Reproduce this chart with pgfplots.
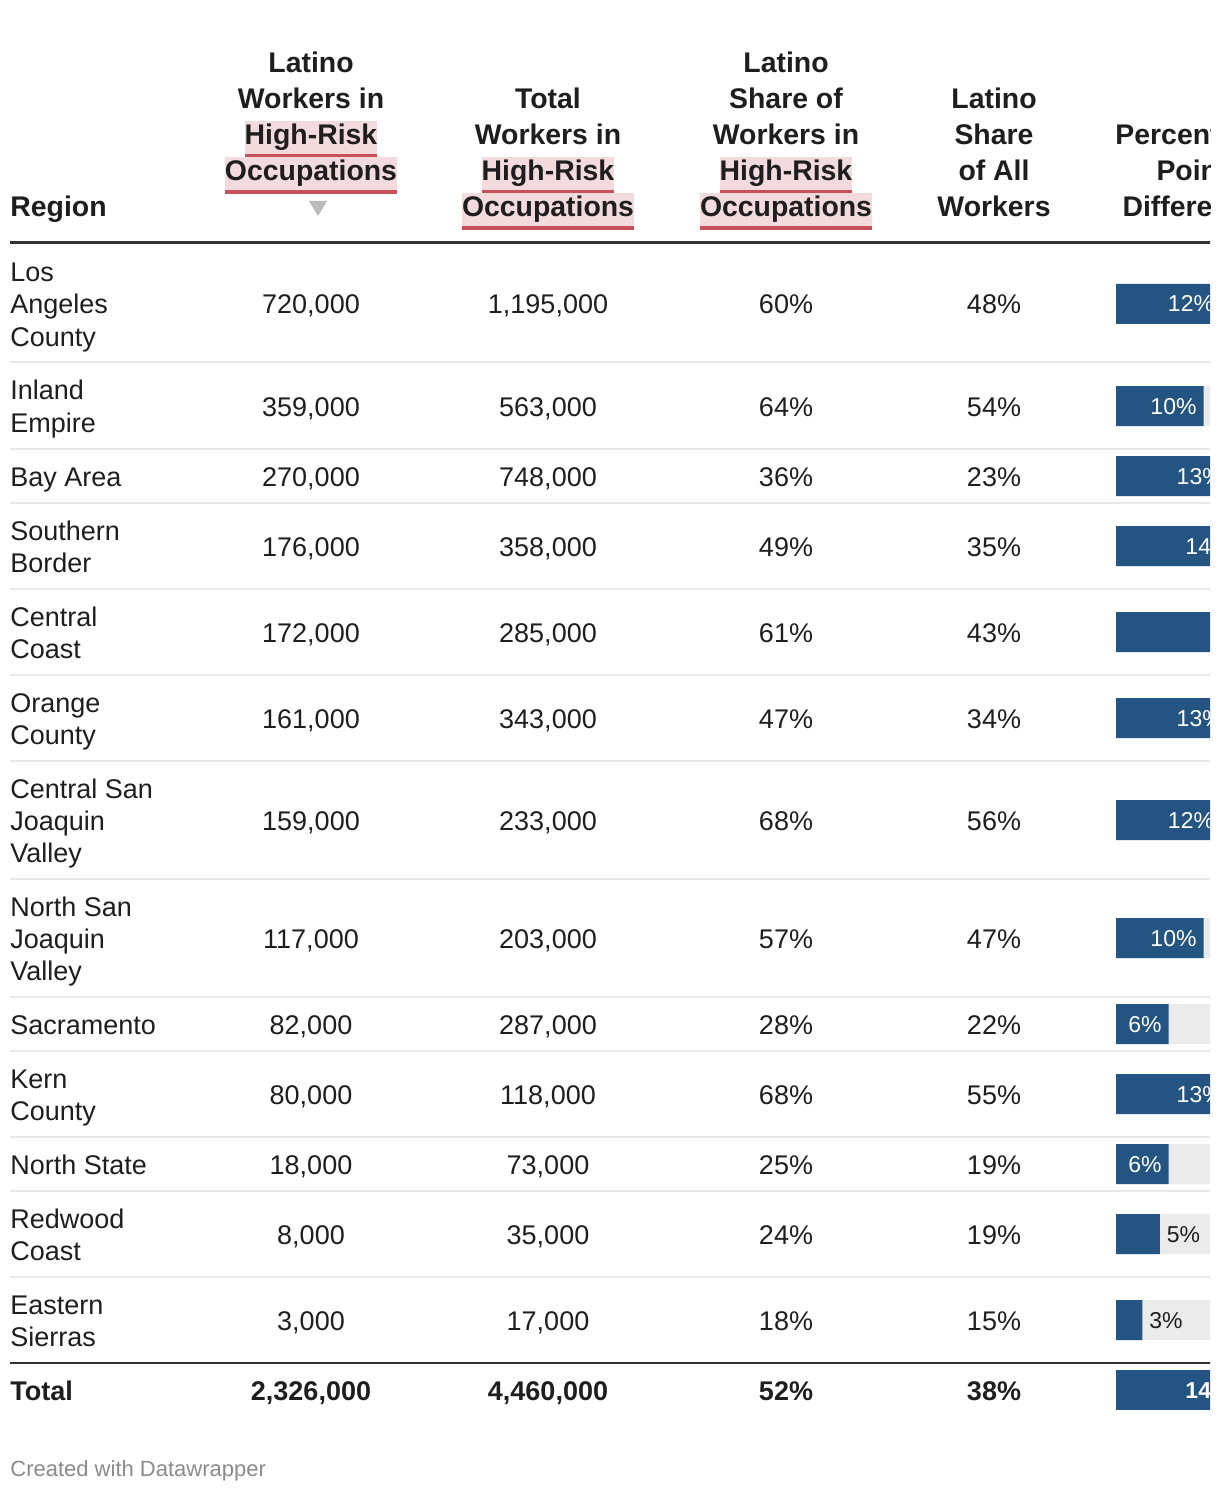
\documentclass[border=0pt]{standalone}
\usepackage{pgfplots}
\usepackage{pgfplotstable}
\pgfplotsset{compat=1.18}
\usepackage{fontspec}
\setmainfont{Liberation Sans}
\definecolor{barblue}{HTML}{235482}
\definecolor{track}{HTML}{EBEBEB}
\definecolor{txt}{HTML}{1E1E1E}
\definecolor{hlpink}{HTML}{F3DADD}
\definecolor{hlred}{HTML}{C8505A}
\definecolor{sepc}{HTML}{E8E8E8}
\definecolor{rulec}{HTML}{333333}
\definecolor{foot}{HTML}{8A8A8A}
\definecolor{arrowc}{HTML}{BBBBBB}
\newsavebox\hlbox
\newcommand\hl[1]{\sbox\hlbox{#1}\rlap{\color{hlpink}\rule[-0.32em]{\wd\hlbox}{1.15em}}\rlap{\color{hlred}\rule[-0.46em]{\wd\hlbox}{0.14em}}\usebox\hlbox}
\newcommand\hfont{\fontsize{14.2pt}{18pt}\selectfont\bfseries}
\newcommand\bfont{\fontsize{13.5pt}{16pt}\selectfont}
\newcommand\lfont{\fontsize{11.5pt}{13pt}\selectfont}
\newcommand\hd[3]{\node[anchor=base, font=\hfont, text=txt, inner sep=0pt] at (axis cs:#1,#2) {#3};}
\newcommand\rl[2]{\node[anchor=base west, font=\bfont, text=txt, inner sep=0pt] at (axis cs:10,#1) {#2};}

\pgfplotstableread{
y lat tot share all diff track
304 720000 1195000 60 48 12 18
406 359000 563000 64 54 10 18
476 270000 748000 36 23 13 18
546 176000 358000 49 35 14 18
632 172000 285000 61 43 18 18
718 161000 343000 47 34 13 18
820 159000 233000 68 56 12 18
938 117000 203000 57 47 10 18
1024 82000 287000 28 22 6 18
1094 80000 118000 68 55 13 18
1164 18000 73000 25 19 6 18
1234 8000 35000 24 19 5 18
1320 3000 17000 18 15 3 18
}\rows
\pgfplotstableread{
y lat tot share all diff track
1390 2326000 4460000 52 38 14 18
}\totalrow

\pgfplotsset{
  cellstyle/.style={only marks, mark=none, nodes near coords,
    every node near coord/.style={anchor=base, yshift=-5pt, font=\bfont, text=txt, inner sep=0pt}},
  totstyle/.style={only marks, mark=none, nodes near coords,
    every node near coord/.style={anchor=base, yshift=-5pt, font=\bfont\bfseries, text=txt, inner sep=0pt}},
  pct/.style={nodes near coords={\pgfmathprintnumber{\pgfplotspointmeta}\%}},
}

\begin{document}
\begin{tikzpicture}
\useasboundingbox (0,0) rectangle (610pt,746pt);
\begin{scope}
\clip (0,0) rectangle (605pt,746pt);
\begin{axis}[at={(0,0)}, anchor=south west, scale only axis,
  width=610pt, height=746pt, xmin=0, xmax=1220, ymin=0, ymax=1492,
  y dir=reverse, hide axis, clip=false,
  /pgf/number format/fixed, /pgf/number format/precision=0,
  /pgf/number format/1000 sep={,}, /pgf/number format/assume math mode=true]
% rules
\draw[rulec, line width=1.5pt] (axis cs:10,243) -- (axis cs:1220,243);
\pgfplotsinvokeforeach{362,449,503,589,675,761,879,997,1051,1137,1191,1277}{
  \draw[sepc, line width=1pt] (axis cs:10,#1) -- (axis cs:1220,#1);}
\draw[rulec, line width=1pt] (axis cs:10,1363) -- (axis cs:1220,1363);
% headers
\node[anchor=base west, font=\hfont, text=txt, inner sep=0pt] at (axis cs:10,217) {Region};
\hd{311}{73}{Latino}
\hd{311}{109}{Workers in}
\hd{311}{145}{\hl{High-Risk}}
\hd{311}{181}{\hl{Occupations}}
\fill[arrowc] (axis cs:309,201) -- (axis cs:327,201) -- (axis cs:318,216) -- cycle;
\hd{548}{109}{Total}
\hd{548}{145}{Workers in}
\hd{548}{181}{\hl{High-Risk}}
\hd{548}{217}{\hl{Occupations}}
\hd{786}{73}{Latino}
\hd{786}{109}{Share of}
\hd{786}{145}{Workers in}
\hd{786}{181}{\hl{High-Risk}}
\hd{786}{217}{\hl{Occupations}}
\hd{994}{109}{Latino}
\hd{994}{145}{Share}
\hd{994}{181}{of All}
\hd{994}{217}{Workers}
\hd{1192}{145}{Percentage}
\hd{1192}{181}{Point}
\hd{1192}{217}{Difference}
% region names, one line at a time
\rl{282}{Los}\rl{314}{Angeles}\rl{346}{County}
\rl{400}{Inland}\rl{432}{Empire}
\rl{486}{Bay Area}
\rl{540}{Southern}\rl{572}{Border}
\rl{626}{Central}\rl{658}{Coast}
\rl{712}{Orange}\rl{744}{County}
\rl{798}{Central San}\rl{830}{Joaquin}\rl{862}{Valley}
\rl{916}{North San}\rl{948}{Joaquin}\rl{980}{Valley}
\rl{1034}{Sacramento}
\rl{1088}{Kern}\rl{1120}{County}
\rl{1174}{North State}
\rl{1228}{Redwood}\rl{1260}{Coast}
\rl{1314}{Eastern}\rl{1346}{Sierras}
\node[anchor=base west, font=\bfont\bfseries, text=txt, inner sep=0pt] at (axis cs:10,1400) {Total};
% cells
\addplot[cellstyle, point meta=\thisrow{lat}] table[x expr=311, y=y] {\rows};
\addplot[cellstyle, point meta=\thisrow{tot}] table[x expr=548, y=y] {\rows};
\addplot[cellstyle, pct, point meta=\thisrow{share}] table[x expr=786, y=y] {\rows};
\addplot[cellstyle, pct, point meta=\thisrow{all}] table[x expr=994, y=y] {\rows};
\addplot[totstyle, point meta=\thisrow{lat}] table[x expr=311, y=y] {\totalrow};
\addplot[totstyle, point meta=\thisrow{tot}] table[x expr=548, y=y] {\totalrow};
\addplot[totstyle, pct, point meta=\thisrow{share}] table[x expr=786, y=y] {\totalrow};
\addplot[totstyle, pct, point meta=\thisrow{all}] table[x expr=994, y=y] {\totalrow};
% footer
\node[anchor=base west, font=\fontsize{11pt}{13pt}\selectfont, text=foot, inner sep=0pt] at (axis cs:10,1476) {Created with Datawrapper};
\end{axis}

\begin{axis}[at={(0,0)}, anchor=south west, scale only axis,
  width=610pt, height=746pt, xmin=-127.543, xmax=11.886, ymin=0, ymax=1492,
  y dir=reverse, hide axis, clip=false,
  /pgf/number format/fixed, /pgf/number format/precision=0,
  /pgf/number format/assume math mode=true]
\addplot[xbar, bar shift=0pt, bar width=40, fill=track, draw=none] table[x=track, y=y] {\rows};
\addplot[xbar, bar shift=0pt, bar width=40, fill=track, draw=none] table[x=track, y=y] {\totalrow};
\addplot[xbar, bar shift=0pt, bar width=40, fill=barblue, draw=none] table[x=diff, y=y] {\rows};
\addplot[xbar, bar shift=0pt, bar width=40, fill=barblue, draw=none] table[x=diff, y=y] {\totalrow};
\addplot[only marks, mark=none, pct, point meta=x, restrict x to domain=5.5:100,
  every node near coord/.style={anchor=base east, xshift=-3.3pt, yshift=-4pt, text=white, font=\lfont, inner sep=0pt}]
  table[x=diff, y=y] {\rows};
\addplot[only marks, mark=none, pct, point meta=x, restrict x to domain=0:5.5,
  every node near coord/.style={anchor=base west, xshift=3.3pt, yshift=-4pt, text=txt, font=\lfont, inner sep=0pt}]
  table[x=diff, y=y] {\rows};
\addplot[only marks, mark=none, pct, point meta=x,
  every node near coord/.style={anchor=base east, xshift=-3.3pt, yshift=-4pt, text=white, font=\lfont\bfseries, inner sep=0pt}]
  table[x=diff, y=y] {\totalrow};
\end{axis}
\end{scope}
\end{tikzpicture}
\end{document}
